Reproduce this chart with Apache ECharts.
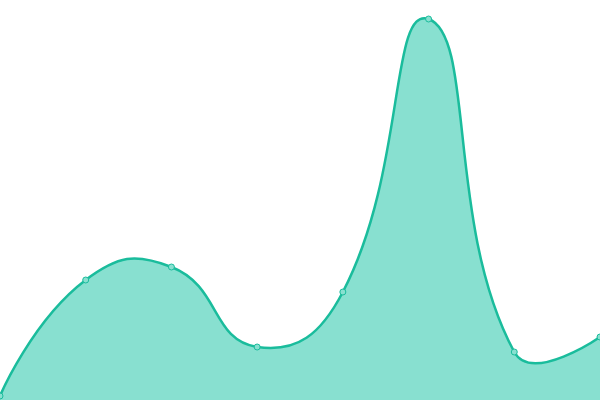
<!DOCTYPE html>
<html>
<head>
<meta charset="utf-8">
<script src="https://cdn.jsdelivr.net/npm/echarts@6/dist/echarts.min.js"></script>
<style>
  html, body { margin: 0; padding: 0; background: #fff; }
  #chart { width: 600px; height: 400px; }
</style>
</head>
<body>
<div id="chart"></div>
<script>
// categories (hidden axis) and the values
var categories = ['1', '2', '3', '4', '5', '6', '7', '8'];
var values = [4, 120, 133, 53, 108, 381, 48, 63];

var lineColor = '#1abc9c';
var areaColor = '#88e0d0';
var smooth = 0.5;

// old-style (unclamped) smooth bezier through the pixel points
function smoothPath(pts) {
    var d = 'M' + pts[0][0] + ' ' + pts[0][1];
    var cp0 = pts[0];
    for (var i = 1; i < pts.length; i++) {
        var p = pts[i], prev = pts[i - 1], next = pts[i + 1];
        var cp1, nextCp0;
        if (!next) {
            cp1 = p;
            nextCp0 = p;
        } else {
            var vx = next[0] - prev[0], vy = next[1] - prev[1];
            var lenPrev = Math.sqrt(Math.pow(p[0] - prev[0], 2) + Math.pow(p[1] - prev[1], 2));
            var lenNext = Math.sqrt(Math.pow(next[0] - p[0], 2) + Math.pow(next[1] - p[1], 2));
            var ratio = lenNext / (lenNext + lenPrev);
            cp1 = [p[0] - vx * smooth * (1 - ratio), p[1] - vy * smooth * (1 - ratio)];
            nextCp0 = [p[0] + vx * smooth * ratio, p[1] + vy * smooth * ratio];
        }
        d += 'C' + cp0[0] + ' ' + cp0[1] + ' ' + cp1[0] + ' ' + cp1[1] + ' ' + p[0] + ' ' + p[1];
        cp0 = nextCp0;
    }
    return d;
}

var seriesData = values.map(function (v, i) { return [i, v]; });

var chart = echarts.init(document.getElementById('chart'));
chart.setOption({
    animation: false,
    grid: { left: 0, right: 0, top: 0, bottom: 0 },
    xAxis: {
        type: 'category',
        data: categories,
        boundaryGap: false,
        show: false
    },
    yAxis: {
        type: 'value',
        min: 0,
        max: 400,
        show: false
    },
    series: [{
        type: 'custom',
        data: seriesData,
        renderItem: function (params, api) {
            if (params.dataIndex !== 0) return null;
            var pts = values.map(function (v, i) { return api.coord([i, v]); });
            var line = smoothPath(pts);
            var last = pts[pts.length - 1];
            var base0 = api.coord([0, 0]);
            var base1 = api.coord([pts.length - 1, 0]);
            var area = line + 'L' + last[0] + ' ' + base1[1] + 'L' + base0[0] + ' ' + base0[1] + 'Z';
            return {
                type: 'group',
                children: [{
                    type: 'path',
                    shape: { pathData: area },
                    style: { fill: areaColor, stroke: null }
                }, {
                    type: 'path',
                    shape: { pathData: line },
                    style: { fill: null, stroke: lineColor, lineWidth: 2.5 }
                }]
            };
        }
    }, {
        type: 'scatter',
        data: seriesData,
        symbol: 'circle',
        symbolSize: 6,
        itemStyle: { color: areaColor, borderColor: lineColor, borderWidth: 1, opacity: 1 }
    }]
});
</script>
</body>
</html>
